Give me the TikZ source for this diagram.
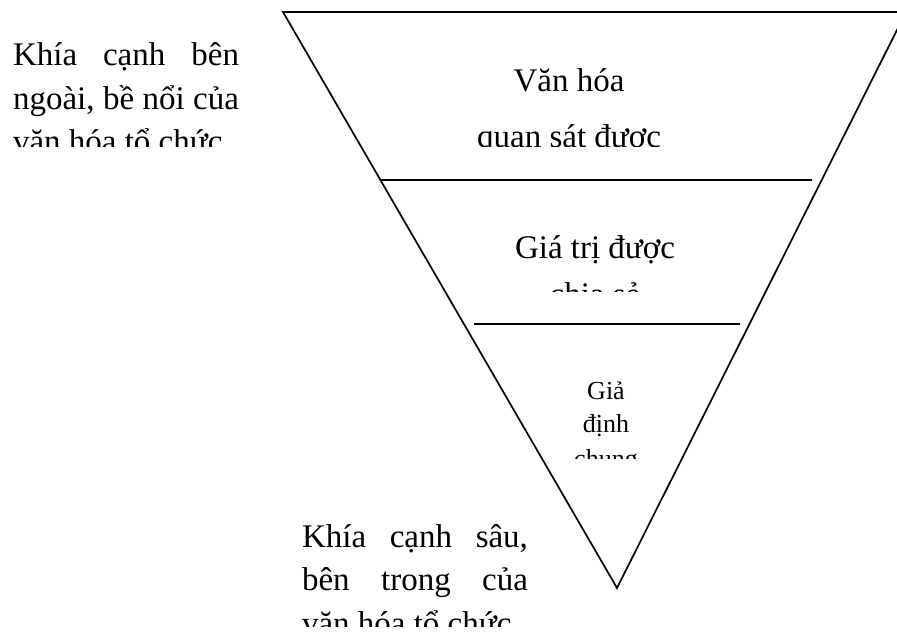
\documentclass[tikz,border=0pt]{standalone}
\usepackage{fontspec}
\setmainfont{Liberation Serif}
\hbadness=10000
\begin{document}
\begin{tikzpicture}[x=0.5pt,y=-0.5pt,line width=0.85pt,
  every node/.style={inner sep=0pt,outer sep=0pt},
  sidetext/.style={anchor=base west,font=\fontsize{16.5}{21.75}\selectfont},
  layertext/.style={anchor=base,font=\fontsize{16.5}{28}\selectfont}]
\useasboundingbox (0,0) rectangle (897,635);
% the inverted triangle and its layers
\coordinate (tl) at (283,12);
\coordinate (tr) at (906,12);
\coordinate (apex) at (617,588);
\draw[line join=miter] (tl) -- (tr) -- (apex) -- cycle;
\draw (380,180) -- (812,180);
\draw (474,324) -- (740,324);
% layer labels
\begin{scope}
\clip (460,40) rectangle (680,147);
\node[layertext] (visible) at (569,92) {\parbox[t]{110pt}{\centering Văn hóa\\quan sát được}};
\end{scope}
\begin{scope}
\clip (500,200) rectangle (690,292);
\node[layertext,font=\fontsize{16.5}{23.25}\selectfont] (values) at (595,259) {\parbox[t]{95pt}{\centering Giá trị được\\chia sẻ}};
\end{scope}
\begin{scope}
\clip (570,360) rectangle (645,458);
\node[layertext,font=\fontsize{13}{17}\selectfont] (assumptions) at (606,399) {\parbox[t]{40pt}{\centering Giả\\định\\chung}};
\end{scope}
% side notes
\begin{scope}
\clip (0,0) rectangle (270,147);
\node[sidetext] (outer) at (13,66) {\parbox[t]{113pt}{Khía cạnh bên\linebreak ngoài, bề nổi của\linebreak văn hóa tổ chức}};
\end{scope}
\begin{scope}
\clip (290,500) rectangle (545,626);
\node[sidetext] (inner) at (302,547) {\parbox[t]{113pt}{Khía cạnh sâu,\linebreak bên trong của\linebreak văn hóa tổ chức}};
\end{scope}
\end{tikzpicture}
\end{document}
